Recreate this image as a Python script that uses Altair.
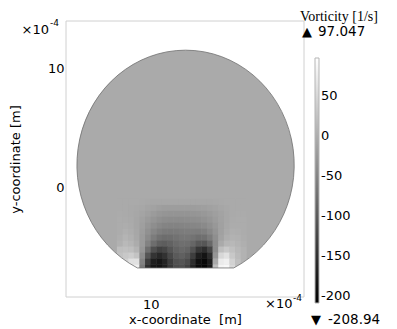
import altair as alt
import numpy as np
import pandas as pd

# ---------------- values ----------------
X_DOMAIN = [2.48, 23.62]          # x-coordinate, units of 1e-4 m
Y_DOMAIN = [-9.24, 13.95]         # y-coordinate, units of 1e-4 m
X_TICKS = [10, 20]
Y_TICKS = [0, 10]
V_MIN, V_MAX = -208.94, 97.047    # vorticity range [1/s]
LEGEND_VALUES = [50, 0, -50, -100, -150, -200]

# computational domain: a disk cut flat at the bottom (units of 1e-4 m)
CENTER_X, CENTER_Y = 13.1, 1.85
RADIUS = 9.65
BOTTOM_Y = -6.8

# vorticity in the bulk of the disk
BASE_VORTICITY = -5

# vorticity read on a 0.5 x 0.5 grid near the flat bottom
GRID_X0 = 7.0      # left edge of first column
GRID_Y_TOP = -1.0  # top edge of first row
GRID_STEP = 0.5
VORT_ROWS = [
    [-5, -5, -5, -5, -6, -7, -8, -8, -9, -9, -9, -9, -9, -9, -9, -8, -8, -7, -6, -5, -5, -5, -5],
    [-5, -5, -6, -7, -9, -12, -15, -18, -20, -21, -21, -21, -21, -20, -19, -18, -16, -13, -10, -7, -5, -5, -5],
    [-4, -5, -6, -9, -12, -17, -23, -28, -30, -31, -31, -31, -31, -30, -29, -27, -23, -18, -13, -9, -5, -4, -4],
    [-3, -4, -5, -10, -16, -23, -30, -36, -40, -41, -41, -41, -40, -39, -37, -34, -29, -22, -15, -9, -4, -3, -3],
    [-2, -1, -4, -10, -18, -29, -39, -46, -51, -52, -52, -51, -49, -48, -47, -43, -36, -27, -16, -7, -3, -2, -3],
    [-2, 2, -1, -9, -21, -35, -48, -58, -63, -64, -63, -60, -59, -59, -60, -57, -46, -31, -16, -5, 1, 0, -3],
    [0, 7, 2, -7, -23, -42, -60, -73, -78, -77, -72, -67, -67, -71, -77, -75, -60, -37, -13, 0, 5, 3, -1],
    [3, 13, 8, -3, -24, -53, -77, -94, -97, -91, -82, -76, -77, -87, -103, -106, -84, -41, -5, 9, 12, 7, 1],
    [19, 21, 19, 7, -29, -77, -113, -131, -125, -107, -91, -84, -89, -111, -143, -155, -125, -41, 19, 31, 21, 12, 5],
    [24, 31, 37, 25, -41, -107, -147, -161, -149, -123, -101, -94, -103, -135, -173, -185, -155, -29, 49, 61, 31, 15, 5],
    [26, 43, 61, 61, -53, -137, -173, -183, -167, -137, -113, -107, -119, -155, -191, -199, -173, -5, 73, 79, 43, 20, 5],
    [29, 49, 73, 79, -65, -155, -183, -187, -173, -143, -119, -115, -131, -167, -197, -203, -179, 19, 85, 89, 49, 22, 5],
]

# ---------------- build tables ----------------
OVERLAP = 0.03  # tiny overlap so neighbouring cells leave no seams
cells = [dict(x=CENTER_X - RADIUS - 0.5, x2=CENTER_X + RADIUS + 0.5,
              y=BOTTOM_Y - 0.5, y2=CENTER_Y + RADIUS + 0.5, v=BASE_VORTICITY)]
for i, row in enumerate(VORT_ROWS):
    top = GRID_Y_TOP - i * GRID_STEP
    for j, val in enumerate(row):
        left = GRID_X0 + j * GRID_STEP
        cells.append(dict(x=left, x2=left + GRID_STEP + OVERLAP,
                          y=top - GRID_STEP - OVERLAP, y2=top, v=val))
cells_df = pd.DataFrame(cells)
center_df = pd.DataFrame({"x": [CENTER_X], "y": [CENTER_Y]})

# ---------------- layout ----------------
W, H = 238, 276
FONT = "DejaVu Sans"
kx = W / (X_DOMAIN[1] - X_DOMAIN[0])
ky = H / (Y_DOMAIN[1] - Y_DOMAIN[0])
S = 100.0  # symbol path unit in px (size = (2*S)^2)
a = RADIUS * kx / S
b = RADIUS * ky / S
c = (CENTER_Y - BOTTOM_Y) * ky / S
h = a * np.sqrt(1 - (c / b) ** 2)
inner = f"M {-h:.4f} {c:.4f} L {h:.4f} {c:.4f} A {a:.4f} {b:.4f} 0 1 0 {-h:.4f} {c:.4f} Z"
mask_path = "M -6 -6 L 6 -6 L 6 6 L -6 6 Z " + inner

xs = alt.Scale(domain=X_DOMAIN, nice=False, zero=False)
ys = alt.Scale(domain=Y_DOMAIN, nice=False, zero=False)
cs = alt.Scale(domain=[V_MIN, V_MAX], range=["black", "white"], interpolate="rgb")

x_axis = alt.Axis(values=X_TICKS, labelExpr="datum.value == 20 ? '' : datum.label",
                  title="x-coordinate\u00a0 [m]", grid=False, domain=False, ticks=False,
                  labelPadding=1, titlePadding=2, labelFontSize=13, titleFontSize=13,
                  labelFont=FONT, titleFont=FONT, titleFontWeight="normal",
                  labelColor="black", titleColor="black")
y_axis = alt.Axis(values=Y_TICKS, title="y-coordinate [m]", grid=False, domain=False,
                  ticks=False, labelPadding=2, labelFontSize=13,
                  titleFontSize=13, labelFont=FONT, titleFont=FONT,
                  titleFontWeight="normal", labelColor="black", titleColor="black",
                  titleX=-51, titleY=H / 2, titleAngle=270, titleAlign="center",
                  titleBaseline="middle")

field = alt.Chart(cells_df).mark_rect().encode(
    x=alt.X("x:Q", scale=xs, axis=x_axis),
    x2="x2:Q",
    y=alt.Y("y:Q", scale=ys, axis=y_axis),
    y2="y2:Q",
    color=alt.Color("v:Q", scale=cs, legend=alt.Legend(
        type="gradient", orient="none", legendX=249, legendY=37, direction="vertical",
        gradientLength=245, gradientThickness=4, values=LEGEND_VALUES, title=None,
        labelFont=FONT, labelFontSize=13, labelColor="black", labelOffset=2,
        labelExpr="'' + datum.value", gradientStrokeColor="#b5b5b5",
        gradientStrokeWidth=1, padding=0)),
)

mask = alt.Chart(center_df).mark_point(
    shape=mask_path, size=(2 * S) ** 2, filled=True, color="white", fill="white",
    strokeWidth=0, opacity=1, clip=True,
).encode(x=alt.X("x:Q", scale=xs, axis=x_axis), y=alt.Y("y:Q", scale=ys, axis=y_axis))

outline = alt.Chart(center_df).mark_point(
    shape=inner, size=(2 * S) ** 2, filled=False, stroke="#707070", strokeWidth=0.8,
    opacity=1,
).encode(x=alt.X("x:Q", scale=xs, axis=x_axis), y=alt.Y("y:Q", scale=ys, axis=y_axis))

frame = alt.Chart(pd.DataFrame({"f": [0]})).mark_rect(
    fill="white", fillOpacity=0, stroke="#d0d0d0", strokeWidth=1,
).encode(x=alt.value(0), x2=alt.value(W), y=alt.value(0), y2=alt.value(H))


def label(text, x, y, size=13, font=FONT, align="left", baseline="middle"):
    return alt.Chart(pd.DataFrame({"t": [text]})).mark_text(
        align=align, baseline=baseline, font=font, fontSize=size, color="black",
    ).encode(x=alt.value(x), y=alt.value(y), text="t:N")


texts = [
    label("×10", -44.5, 9),
    label("-4", -16, 2, size=9),
    label("×10", 199, 283),
    label("-4", 227, 277, size=9),
    label("Vorticity [1/s]", 234, -0.5, size=14, font="Liberation Serif",
          baseline="alphabetic"),
    label("▲", 241, 11, align="center"),
    label("97.047", 252, 11, size=13.5),
    label("▼", 250, 299, align="center"),
    label("-208.94", 262, 299, size=13.5),
]

chart = alt.layer(field, mask, outline, frame, *texts).properties(
    width=W, height=H,
    autosize=alt.AutoSizeParams(type="none"),
    padding={"left": 58, "top": 13, "right": 85, "bottom": 32},
).configure_view(stroke=None)

chart.save("out.html", embed_options={"renderer": "svg", "actions": False})
